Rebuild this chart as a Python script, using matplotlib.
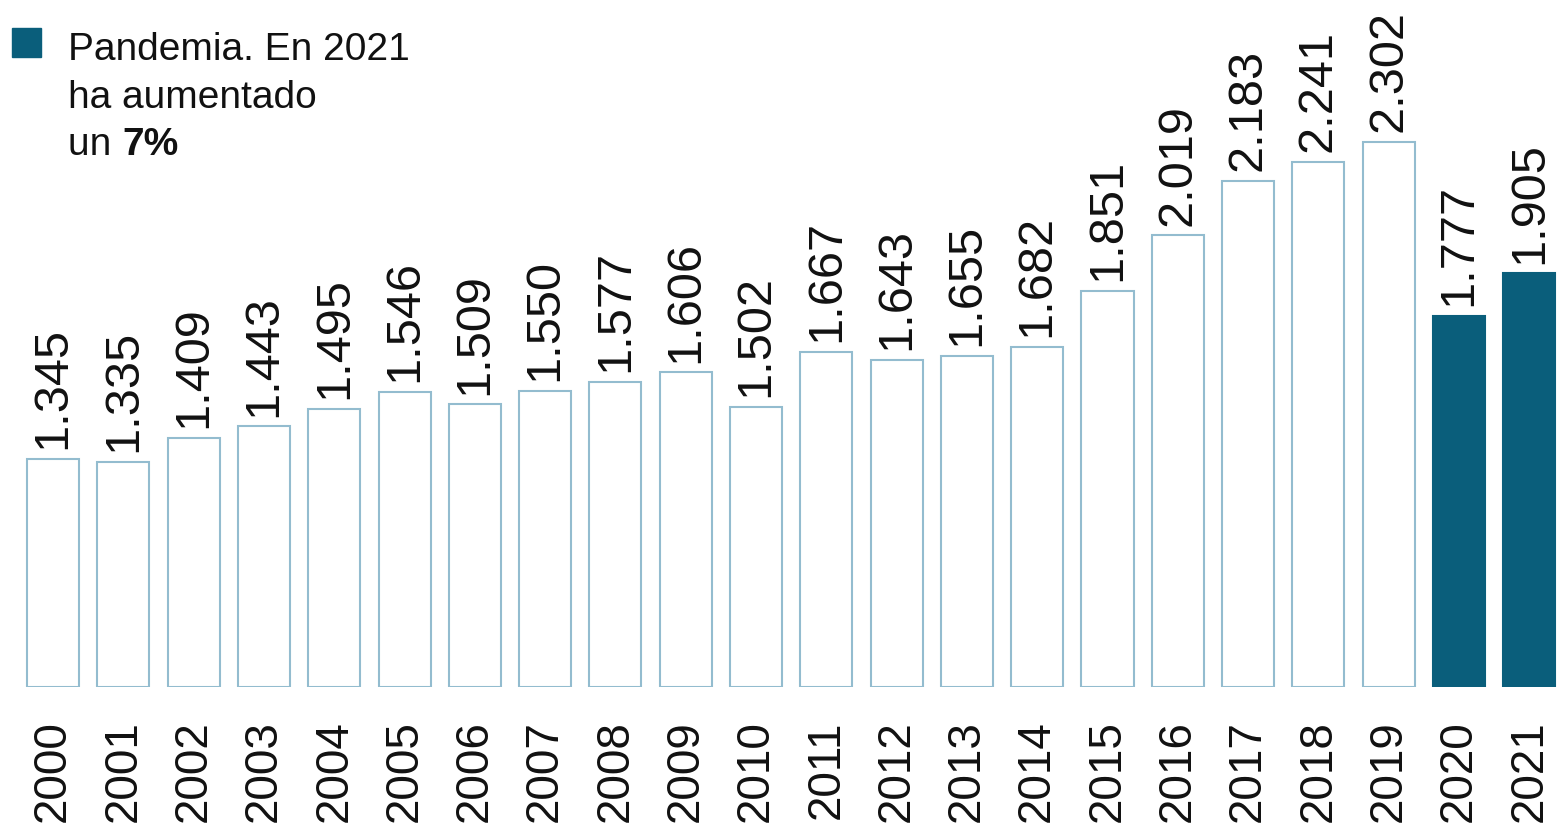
import matplotlib.pyplot as plt

plt.rcParams['font.family'] = ['Liberation Sans', 'DejaVu Sans']

years = [str(y) for y in range(2000, 2022)]
values = [1345, 1335, 1409, 1443, 1495, 1546, 1509, 1550, 1577, 1606, 1502,
          1667, 1643, 1655, 1682, 1851, 2019, 2183, 2241, 2302, 1777, 1905]
pandemic = ['2020', '2021']
note_lines = ["Pandemia. En 2021", "ha aumentado"]

dark = '#0a5e7b'
light_edge = '#93bccf'
base = 655  # truncated baseline of the chart

fig = plt.figure(figsize=(15.63, 8.30), dpi=100)
ax = fig.add_axes([0, 0.172, 1, 0.828])

x = list(range(len(years)))
heights = [v - base for v in values]
faces = [dark if y in pandemic else 'white' for y in years]
edges = [dark if y in pandemic else light_edge for y in years]
bars = ax.bar(x, heights, bottom=base, width=0.74, color=faces,
              edgecolor=edges, linewidth=1.5)

for xi, v in zip(x, values):
    label = f"{v:,}".replace(',', '.')
    ax.annotate(label, (xi, v), xytext=(0, 7), textcoords='offset points',
                ha='center', va='bottom', rotation=90, fontsize=35, color='#111111')

ax.set_xlim(-0.755, 21.48)
ax.set_ylim(base, 2730)
ax.set_xticks(x)
ax.set_xticklabels(years, rotation=90, fontsize=33, color='#111111')
ax.tick_params(axis='x', length=0, pad=24)
ax.set_yticks([])
for s in ax.spines.values():
    s.set_visible(False)

# legend-style note in the top left
fig.patches.append(plt.Rectangle((12 / 1563, 1 - 57 / 830), 29 / 1563, 29 / 830,
                                 transform=fig.transFigure, color=dark))
line_gap = 47.5
for i, line in enumerate(note_lines):
    fig.text(68 / 1563, 1 - (60 + i * line_gap) / 830, line,
             fontsize=28, va='baseline', ha='left', color='#111111')
t = fig.text(68 / 1563, 1 - (60 + 2 * line_gap) / 830, "un ", fontsize=28,
             va='baseline', ha='left', color='#111111')
ax.annotate("7%", xy=(1, 0), xycoords=t, va='bottom', ha='left',
            fontsize=28, fontweight='bold', color='#111111')

fig.savefig('out.png', dpi=100)
